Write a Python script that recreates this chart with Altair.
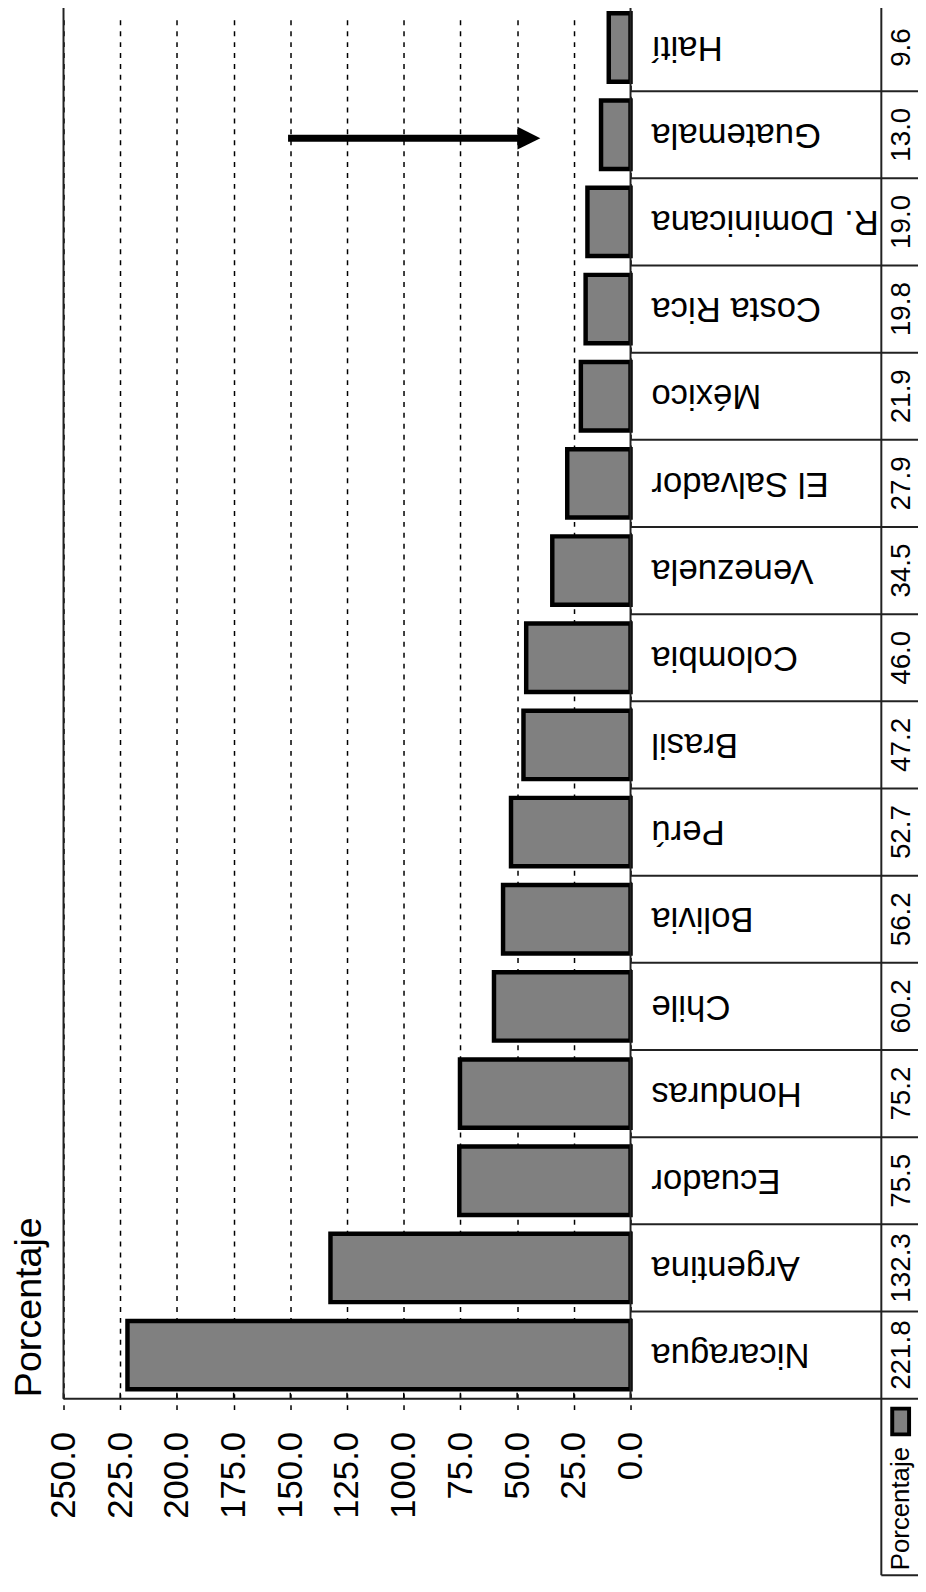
import altair as alt
import pandas as pd

# ---- data (top to bottom) ----
countries = ["Haití", "Guatemala", "R. Dominicana", "Costa Rica", "México",
             "El Salvador", "Venezuela", "Colombia", "Brasil", "Perú",
             "Bolivia", "Chile", "Honduras", "Ecuador", "Argentina", "Nicaragua"]
values = [9.6, 13.0, 19.0, 19.8, 21.9, 27.9, 34.5, 46.0, 47.2, 52.7,
          56.2, 60.2, 75.2, 75.5, 132.3, 221.8]
value_ticks = [0, 25, 50, 75, 100, 125, 150, 175, 200, 225, 250]
axis_title = "Porcentaje"
series_name = "Porcentaje"
frame_values = [0, 250]
arrow_target = ["Guatemala"]
arrow_start = [151.0]
arrow_end = [47.0]
arrow_tip = [44.8]

# ---- layout ----
W = 862          # view width (plot + data table)
H = 1396         # view height
PLOT_W = 572     # value-axis length
LEG_H = 178
FONT = "Liberation Sans"

df = pd.DataFrame({"pais": countries, "valor": values})
df_ticks = pd.DataFrame({"valor": value_ticks})
df_frame = pd.DataFrame({"valor": frame_values})
df_rows = pd.DataFrame({"pais": countries})
df_arrow = pd.DataFrame({"pais": arrow_target, "valor": arrow_start,
                         "x2": arrow_end, "tip": arrow_tip})
df_leg = pd.DataFrame({"serie": [series_name]})

xs = alt.Scale(domain=[0, 250], range=[PLOT_W, 0])
ys = alt.Scale(domain=countries, range=[-11, H], paddingInner=0, paddingOuter=0)
Y = alt.Y("pais:N", scale=ys, axis=None)

AX = alt.Axis(
    values=value_ticks, format=".1f", labelAngle=270, labelAlign="right",
    labelBaseline="middle", labelPadding=33, labelFontSize=35,
    labelFont=FONT, labelColor="black", labelFlush=False,
    labelOverlap=False, ticks=False, domain=False, grid=True,
    gridDash=[5, 6], gridColor="black", gridWidth=1.5,
    title=axis_title, titleAngle=270, titleAlign="left",
    titleBaseline="alphabetic", titleX=-23, titleY=-2, titleFontSize=38,
    titleFont=FONT, titleFontWeight="normal", titleColor="black")


def X(field):
    return alt.X(field, scale=xs, axis=AX)


bars = alt.Chart(df).mark_bar(size=69, fill="#808080", stroke="black",
                              strokeWidth=4.5).encode(x=X("valor:Q"), y=Y)

ticks = alt.Chart(df_ticks).mark_rule(color="black", strokeWidth=1.5).encode(
    x=X("valor:Q"), y=alt.value(H - 6), y2=alt.value(H))

frame = alt.Chart(df_frame).mark_rule(color="#222", strokeWidth=2).encode(
    x=X("valor:Q"), y=alt.value(-20), y2=alt.value(H))

row_lines = alt.Chart(df_rows).mark_rule(color="#222", strokeWidth=2).encode(
    y=alt.Y("pais:N", scale=ys, axis=None, bandPosition=0),
    x=alt.value(PLOT_W), x2=alt.value(W))

bottom_line = alt.Chart(df_leg).mark_rule(color="#222", strokeWidth=2).encode(
    y=alt.value(H), x=alt.value(0), x2=alt.value(W))
divider = alt.Chart(df_leg).mark_rule(color="#222", strokeWidth=2).encode(
    x=alt.value(825), y=alt.value(-20), y2=alt.value(H + LEG_H))
leg_bottom = alt.Chart(df_leg).mark_rule(color="#222", strokeWidth=2).encode(
    y=alt.value(H + LEG_H), x=alt.value(825), x2=alt.value(W))

names = alt.Chart(df).mark_text(angle=180, align="right", baseline="middle",
                                fontSize=35, font=FONT, color="black").encode(
    y=Y, x=alt.value(593), text="pais:N")

nums = alt.Chart(df).mark_text(angle=270, align="center", baseline="middle",
                               fontSize=28, font=FONT, color="black").encode(
    y=Y, x=alt.value(846), text=alt.Text("valor:Q", format=".1f"))

swatch = alt.Chart(df_leg).mark_rect(fill="#808080", stroke="black",
                                     strokeWidth=4).encode(
    x=alt.value(836), x2=alt.value(853), y=alt.value(H + 10), y2=alt.value(H + 36))
leg_text = alt.Chart(df_leg).mark_text(angle=270, align="left",
                                       baseline="alphabetic", fontSize=26,
                                       font=FONT, color="black").encode(
    x=alt.value(853), y=alt.value(H + 173), text="serie:N")

arrow_line = alt.Chart(df_arrow).mark_rule(color="black", strokeWidth=7,
                                           yOffset=3.5).encode(
    x=X("valor:Q"), x2="x2:Q", y=Y)
arrow_head = alt.Chart(df_arrow).mark_point(shape="M-1,-1L1,0L-1,1Z", size=529,
                                            filled=True, fill="black",
                                            opacity=1, yOffset=3.5).encode(
    x=X("tip:Q"), y=Y)

chart = alt.layer(
    bars, ticks, frame, row_lines, bottom_line, divider, leg_bottom,
    names, nums, swatch, leg_text, arrow_line, arrow_head
).properties(
    width=W, height=H,
    background="white",
    autosize=alt.AutoSizeParams(type="none"),
    padding={"left": 56, "top": 0, "right": 0, "bottom": 180},
).configure_view(stroke=None)

chart.save("out.html", embed_options={"renderer": "svg", "actions": False})
